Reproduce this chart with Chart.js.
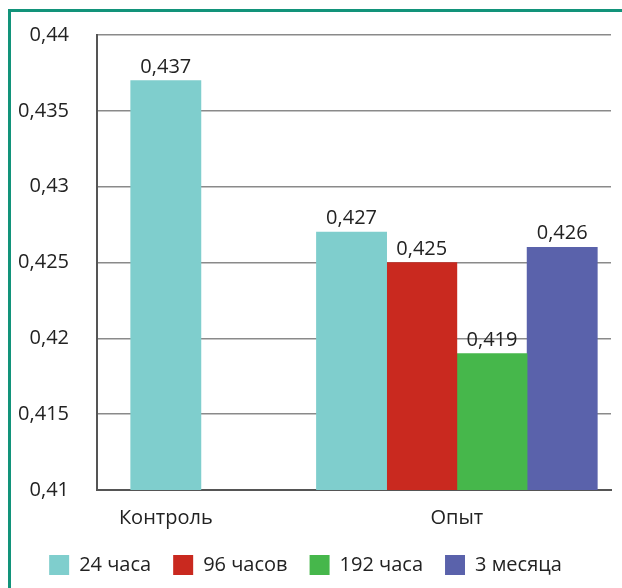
<!DOCTYPE html>
<html lang="ru">
<head>
  <meta charset="UTF-8" />
  <title>Контроль и опыт</title>
  <script src="https://cdn.jsdelivr.net/npm/chart.js"></script>
  <style>
    html, body {
      margin: 0;
      padding: 0;
      background: #fff;
    }
    .frame {
      position: absolute;
      left: 8px;
      top: 9px;
      width: 640px;
      height: 600px;
      border-left: 3px solid #12937a;
      border-top: 3px solid #12937a;
    }
    #chart {
      position: absolute;
      left: 0;
      top: 0;
    }
  </style>
</head>
<body>
  <div class="frame"></div>
  <canvas id="chart" width="622" height="588"></canvas>

  <script>
    // данные
    const categories = ['Контроль', 'Опыт'];
    const seriesNames = ['24 часа', '96 часов', '192 часа', '3 месяца'];
    const values24h = [0.437, 0.427];
    const values96h = [null, 0.425];
    const values192h = [null, 0.419];
    const values3m = [null, 0.426];
    const yTicks = [0.41, 0.415, 0.42, 0.425, 0.43, 0.435, 0.44];

    const seriesValues = [values24h, values96h, values192h, values3m];
    const colors = ['#7fcecd', '#c9291f', '#46b74b', '#5a62ab'];

    // раскладка по оси X: единица = ширина одного столбца
    const groupCenters = [0.98, 5.125];
    const xMax = 7.32;

    const fmt = v => Number(v.toFixed(3)).toString().replace('.', ',');

    // позиция столбца внутри группы
    function barX(cat, series) {
      const present = seriesValues.map((vals, i) => vals[cat] != null ? i : -1).filter(i => i >= 0);
      const k = present.indexOf(series);
      return groupCenters[cat] - (present.length - 1) / 2 + k;
    }

    const datasets = seriesNames.map((name, s) => ({
      label: name,
      data: categories
        .map((c, ci) => seriesValues[s][ci] == null ? null : { x: barX(ci, s), y: seriesValues[s][ci] })
        .filter(p => p),
      backgroundColor: colors[s],
      borderWidth: 0,
      grouped: false,
      categoryPercentage: 1,
      barPercentage: 1
    }));

    const valueLabels = {
      id: 'valueLabels',
      afterDatasetsDraw(chart) {
        const ctx = chart.ctx;
        ctx.save();
        ctx.font = '20px "Open Sans"';
        ctx.fillStyle = '#222';
        ctx.textAlign = 'center';
        ctx.textBaseline = 'alphabetic';
        chart.data.datasets.forEach((ds, i) => {
          chart.getDatasetMeta(i).data.forEach((el, j) => {
            ctx.fillText(fmt(ds.data[j].y), el.x, el.y - 8);
          });
        });
        ctx.restore();
      }
    };

    Chart.defaults.font.family = '"Open Sans", sans-serif';
    Chart.defaults.font.size = 20;
    Chart.defaults.color = '#222';

    new Chart(document.getElementById('chart'), {
      type: 'bar',
      data: { datasets },
      plugins: [valueLabels],
      options: {
        responsive: false,
        animation: false,
        layout: { padding: { left: 0, right: 11, top: 35, bottom: 3 } },
        plugins: {
          tooltip: { enabled: false },
          legend: {
            position: 'bottom',
            labels: {
              boxWidth: 20,
              boxHeight: 20,
              padding: 22,
              color: '#222',
              font: { size: 20 }
            }
          }
        },
        scales: {
          x: {
            type: 'linear',
            offset: false,
            min: 0,
            max: xMax,
            grid: { display: false },
            border: { display: true, color: '#555', width: 2 },
            afterBuildTicks: scale => {
              scale.ticks = groupCenters.map(v => ({ value: v }));
            },
            afterFit: scale => { scale.height -= 5; },
            ticks: {
              padding: 8,
              autoSkip: false,
              maxRotation: 0,
              callback: (v, i) => categories[i]
            }
          },
          y: {
            min: yTicks[0],
            max: yTicks[yTicks.length - 1],
            afterFit: scale => {
              scale.width = 97;
              scale.paddingTop = 0;
            },
            afterBuildTicks: scale => {
              scale.ticks = yTicks.map(v => ({ value: v }));
            },
            grid: { color: '#8a8a8a', lineWidth: 1.5, drawTicks: false },
            border: { display: true, color: '#555', width: 2 },
            ticks: {
              padding: 28,
              callback: v => fmt(v)
            }
          }
        }
      }
    });
  </script>
</body>
</html>
